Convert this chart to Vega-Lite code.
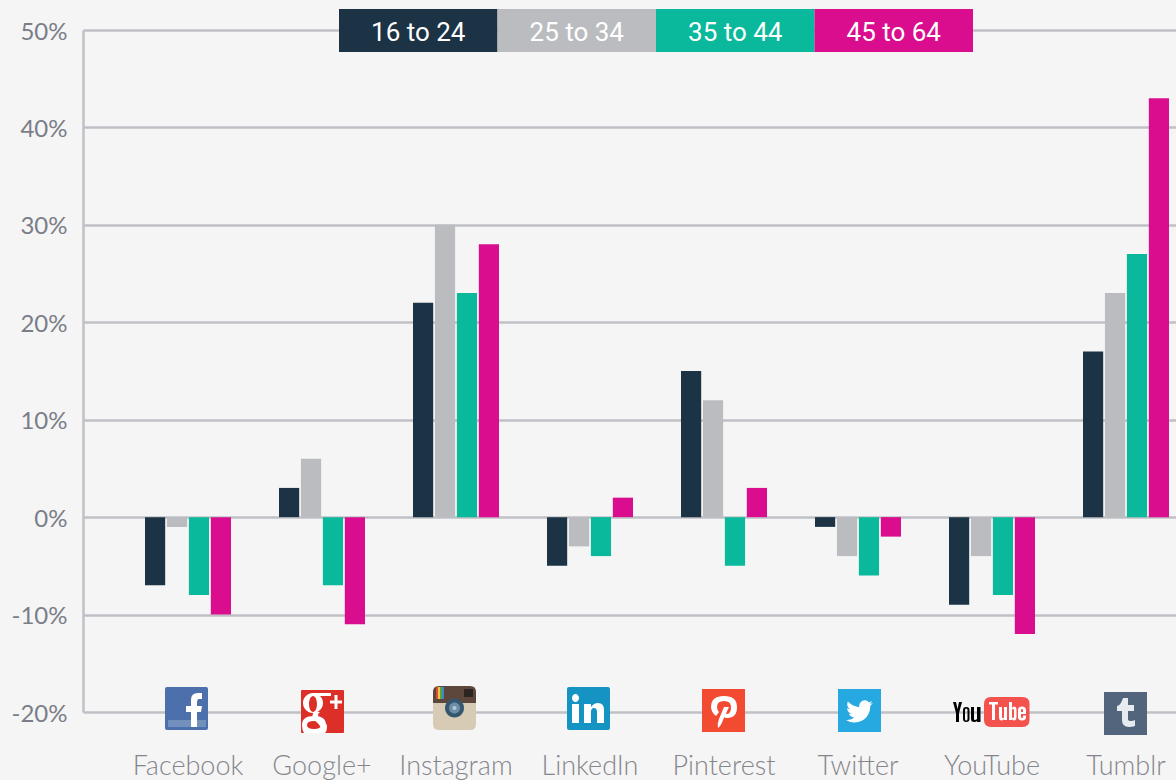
{
"$schema":"https://vega.github.io/schema/vega-lite/v6.json",
"width":1093,"height":682,
"autosize":{"type":"none"},
"padding":{"left":83,"top":30,"right":0,"bottom":68},
"background":"#f5f5f5",
"config":{"view":{"stroke":null}},
"datasets":{
"bars":[
{"platform":"Facebook","age":"16 to 24","change":-7},{"platform":"Facebook","age":"25 to 34","change":-1},{"platform":"Facebook","age":"35 to 44","change":-8},{"platform":"Facebook","age":"45 to 64","change":-10},
{"platform":"Google+","age":"16 to 24","change":3},{"platform":"Google+","age":"25 to 34","change":6},{"platform":"Google+","age":"35 to 44","change":-7},{"platform":"Google+","age":"45 to 64","change":-11},
{"platform":"Instagram","age":"16 to 24","change":22},{"platform":"Instagram","age":"25 to 34","change":30},{"platform":"Instagram","age":"35 to 44","change":23},{"platform":"Instagram","age":"45 to 64","change":28},
{"platform":"LinkedIn","age":"16 to 24","change":-5},{"platform":"LinkedIn","age":"25 to 34","change":-3},{"platform":"LinkedIn","age":"35 to 44","change":-4},{"platform":"LinkedIn","age":"45 to 64","change":2},
{"platform":"Pinterest","age":"16 to 24","change":15},{"platform":"Pinterest","age":"25 to 34","change":12},{"platform":"Pinterest","age":"35 to 44","change":-5},{"platform":"Pinterest","age":"45 to 64","change":3},
{"platform":"Twitter","age":"16 to 24","change":-1},{"platform":"Twitter","age":"25 to 34","change":-4},{"platform":"Twitter","age":"35 to 44","change":-6},{"platform":"Twitter","age":"45 to 64","change":-2},
{"platform":"YouTube","age":"16 to 24","change":-9},{"platform":"YouTube","age":"25 to 34","change":-4},{"platform":"YouTube","age":"35 to 44","change":-8},{"platform":"YouTube","age":"45 to 64","change":-12},
{"platform":"Tumblr","age":"16 to 24","change":17},{"platform":"Tumblr","age":"25 to 34","change":23},{"platform":"Tumblr","age":"35 to 44","change":27},{"platform":"Tumblr","age":"45 to 64","change":43}
],
"ages":[{"age":"16 to 24"},{"age":"25 to 34"},{"age":"35 to 44"},{"age":"45 to 64"}],
"icons":[
{"platform":"Facebook","part":"fb-bg"},{"platform":"Facebook","part":"fb-stripe"},{"platform":"Facebook","part":"fb-f"},
{"platform":"Google+","part":"g-bg"},{"platform":"Google+","part":"g-g"},
{"platform":"Instagram","part":"ig-bg"},{"platform":"Instagram","part":"ig-top"},{"platform":"Instagram","part":"ig-r"},{"platform":"Instagram","part":"ig-y"},{"platform":"Instagram","part":"ig-gr"},{"platform":"Instagram","part":"ig-b"},{"platform":"Instagram","part":"ig-ring"},{"platform":"Instagram","part":"ig-lens"},{"platform":"Instagram","part":"ig-core"},{"platform":"Instagram","part":"ig-vf"},
{"platform":"LinkedIn","part":"li-bg"},{"platform":"LinkedIn","part":"li-in"},
{"platform":"Pinterest","part":"pi-bg"},{"platform":"Pinterest","part":"pi-p"},
{"platform":"Twitter","part":"tw-bg"},{"platform":"Twitter","part":"tw-bird"},
{"platform":"YouTube","part":"yt-you"},{"platform":"YouTube","part":"yt-bg"},{"platform":"YouTube","part":"yt-tube"},
{"platform":"Tumblr","part":"tu-bg"},{"platform":"Tumblr","part":"tu-t"}
]
},
"resolve":{"scale":{"x":"independent"}},
"layer":[
{"layer":[
{"data":{"name":"bars"},
"mark":{"type":"bar","cornerRadius":0},
"encoding":{
"x":{"field":"platform","type":"nominal","sort":null,"title":null,
 "scale":{"domain":["Facebook","Google+","Instagram","LinkedIn","Pinterest","Twitter","YouTube","Tumblr"],"range":[0,1148],"paddingInner":0,"paddingOuter":0.28358},
 "axis":{"domain":false,"ticks":false,"labelAngle":0,"labelPadding":62,"labelFont":"Lato","labelFontWeight":300,"labelFontSize":27,"labelColor":"#85868c","labelAlign":"center","labelBaseline":"alphabetic","grid":false,
 "encode":{"labels":{"update":{"dx":{"signal":"{'Facebook':-2,'Google+':-2,'Pinterest':2,'Twitter':6,'YouTube':2,'Tumblr':4}[datum.value] || 0"}}}}}},
"xOffset":{"field":"age","type":"nominal","scale":{"range":[24,110],"paddingInner":0.08,"paddingOuter":0}},
"y":{"field":"change","type":"quantitative","title":null,
 "scale":{"domain":[-20,50],"nice":false,"zero":false},
 "axis":{"values":[-20,-10,0,10,20,30,40,50],"labelExpr":"datum.value + '%'","grid":true,"gridColor":"#bfc0c5","gridWidth":2.5,"domain":true,"domainColor":"#bfc0c5","domainWidth":2.5,"ticks":false,"labelPadding":16,"labelOffset":2,"labelFont":"Lato","labelFontWeight":400,"labelFontSize":24,"labelColor":"#7a7e88"}},
"color":{"field":"age","type":"nominal","scale":{"domain":["16 to 24","25 to 34","35 to 44","45 to 64"],"range":["#1c3345","#bbbcc0","#0ab89c","#d90d8e"]},"legend":null}
}},
{"data":{"name":"icons"},
"mark":{"type":"point","filled":true,"opacity":1,"size":4,"strokeWidth":0},
"encoding":{
"x":{"field":"platform","type":"nominal","sort":null,"title":null},
"y":{"datum":-20,"type":"quantitative"},
"fill":{"field":"part","type":"nominal","legend":null,"scale":{
"domain":["fb-bg","fb-stripe","fb-f","g-bg","g-g","ig-bg","ig-top","ig-r","ig-y","ig-gr","ig-b","ig-ring","ig-lens","ig-core","ig-vf","li-bg","li-in","pi-bg","pi-p","tw-bg","tw-bird","yt-you","yt-bg","yt-tube","tu-bg","tu-t"],
"range":["#4c70ab","#7390bd","#ffffff","#db2f27","#ffffff","#d8cbb5","#5d473c","#d9493a","#e8c93f","#5da34e","#3f86c6","#34576f","#6e8ea8","#b4c6d4","#2b2420","#1594c4","#ffffff","#f34a32","#ffffff","#26a9e0","#ffffff","#000000","#f4524d","#ffffff","#52657d","#e6ebf0"]}},
"shape":{"field":"part","type":"nominal","legend":null,"scale":{
"domain":["fb-bg","fb-stripe","fb-f","g-bg","g-g","ig-bg","ig-top","ig-r","ig-y","ig-gr","ig-b","ig-ring","ig-lens","ig-core","ig-vf","li-bg","li-in","pi-bg","pi-p","tw-bg","tw-bird","yt-you","yt-bg","yt-tube","tu-bg","tu-t"],
"range":[
"M-21 -25H18Q20 -25 20 -23V16Q20 18 18 18H-21Q-23 18 -23 16V-23Q-23 -25 -21 -25Z",
"M-20 8H18V15H-20Z",
"M3 15V0H-2V-6H3V-12Q3 -19 10 -19H14V-13H11Q9 -13 9 -9V-6H14L13 0H9V15Z",
"M-20 -22H21Q22 -22 22 -21V20Q22 21 21 21H-20Q-21 21 -21 20V-21Q-21 -22 -20 -22Z",
"M-19 -9A10 10 0 1 1 1 -9A10 10 0 1 1 -19 -9ZM-13 -8A4 8 0 1 0 -5 -8A4 8 0 1 0 -13 -8ZM-9 -19H9V-16H-9ZM-8 0L-2 0Q-6 3 -2 6Q5 10 5 15Q5 19 3 21H-1Q0 13 -7 9Q-12 5 -8 0ZM-20 13Q-20 4 -8 4Q4 4 4 13V15L3 21H-18Q-20 18 -20 13ZM-15 13Q-15 17 -8 17Q-1 17 -1 13Q-1 9 -8 9Q-15 9 -15 13ZM8 -11.5H12.5V-17H15.5V-11.5H20V-8.5H15.5V-3H12.5V-8.5H8Z",
"M-17 -26H14Q20 -26 20 -20V12Q20 18 14 18H-17Q-23 18 -23 12V-20Q-23 -26 -17 -26Z",
"M-17 -26H14Q20 -26 20 -20V-9H-23V-20Q-23 -26 -17 -26Z",
"M-20 -25H-18V-13H-20Z",
"M-18 -25H-16V-13H-18Z",
"M-16 -25H-14V-13H-16Z",
"M-14 -25H-12V-13H-14Z",
"M-11 -4A9.5 9.5 0 1 1 8 -4A9.5 9.5 0 1 1 -11 -4Z",
"M-7 -4A5.5 5.5 0 1 1 4 -4A5.5 5.5 0 1 1 -7 -4Z",
"M-3.5 -4A2 2 0 1 1 0.5 -4A2 2 0 1 1 -3.5 -4Z",
"M8 -23H17V-15H8Z",
"M-21 -25H18Q20 -25 20 -23V16Q20 18 18 18H-21Q-23 18 -23 16V-23Q-23 -25 -21 -25Z",
"M-18 -14A3.5 4 0 1 1 -11 -14A3.5 4 0 1 1 -18 -14ZM-18 -8H-11V11H-18ZM-6 11V-8H1V-5Q4 -9 8 -9Q14 -9 14 -2V11H7V0Q7 -4 4 -4Q1 -4 1 0V11Z",
"M-22 -23H21V20H-22Z",
"M-8 4Q-13 0 -13 -5Q-13 -16 0 -16Q13 -16 13 -5Q13 6 3 6Q1 6 0 5L1 1Q2 2 3 2Q7 2 7 -5Q7 -11 0 -11Q-7 -11 -7 -5Q-7 -2 -5 0ZM0 -5H5L-1 8Q-3 14 -6 16Q-7 12 -5 7Z",
"M-20 -23H23V20H-20Z",
"M14.9 -8.9L11.8 -8L14.2 -11L10.7 -9.5C8.5 -14 0.2 -11 1.25 -4.67Q-5 -5.5 -10.15 -10.45Q-12 -6 -8.45 -3.05L-10.95 -3.74Q-10.5 0.5 -6.5 1.75L-9 1.85Q-8 5 -3.8 5.7Q-7.5 8.2 -12 7.98Q-8 10.5 -3.5 10.5C6.7 10.5 12.25 2.1 12.25 -5.25L12.2 -5.95Z",
"M-39 -10H-36L-34.5 -3L-33 -10H-30L-33 1V10H-36V1ZM-29 -2Q-29 -5 -25.75 -5Q-22.5 -5 -22.5 -2V7Q-22.5 10 -25.75 10Q-29 10 -29 7ZM-27 -2V7Q-27 8.5 -25.75 8.5Q-24.5 8.5 -24.5 7V-2Q-24.5 -3.5 -25.75 -3.5Q-27 -3.5 -27 -2ZM-21 -5H-18V7Q-18 8 -17 8Q-16 8 -15 7V-5H-11.5V10H-15V9Q-16 10 -18 10Q-21 10 -21 7Z",
"M-1 -15H30.5Q37.5 -15 37.5 -8V8Q37.5 15 30.5 15H-1Q-8 15 -8 8V-8Q-8 -15 -1 -15Z",
"M-3 -10H6V-7.5H3V8H0V-7.5H-3ZM7 -5H10V5.5Q10 6 11 6Q12 6 12 5V-5H15V8H12V7Q11 8.5 9.5 8.5Q7 8.5 7 5ZM17 -10H20V-4Q21 -5.5 22 -5.5Q24.5 -5.5 24.5 -2V5Q24.5 8.5 22 8.5Q21 8.5 20 7V8H17ZM20 -2V4.5Q20 6 21 6Q22 6 22 4.5V-2Q22 -3 21 -3Q20 -3 20 -2ZM26 -2Q26 -5.5 30 -5.5Q34 -5.5 34 -2V2H29V5Q29 6 30 6Q31 6 31 5V3.5H34V5Q34 8.5 30 8.5Q26 8.5 26 5ZM29 -2V0H31V-2Q31 -3 30 -3Q29 -3 29 -2Z",
"M-22 -20H21V23H-22Z",
"M-3 -14H2V-7H8V-1H2V7Q2 9 5 9Q7 9 9 8V14Q6 15 3 15Q-4 15 -4 8V-1H-9V-6Q-5 -7 -3 -14Z"
]}}
}}
]},
{"data":{"name":"ages"},
"layer":[
{"mark":{"type":"rect"},
"encoding":{
"x":{"field":"age","type":"nominal","sort":null,"axis":null,"title":null,"scale":{"domain":["16 to 24","25 to 34","35 to 44","45 to 64"],"range":[256,890],"paddingInner":0,"paddingOuter":0}},
"y":{"datum":52.16,"type":"quantitative"},
"y2":{"datum":47.74},
"color":{"field":"age","type":"nominal","legend":null}
}},
{"mark":{"type":"text","font":"Roboto","fontWeight":400,"fontSize":26,"color":"#ffffff","baseline":"middle","align":"center"},
"encoding":{
"x":{"field":"age","type":"nominal","sort":null,"axis":null,"title":null},
"y":{"datum":49.7,"type":"quantitative"},
"text":{"field":"age","type":"nominal"}
}}
]}
]
}
